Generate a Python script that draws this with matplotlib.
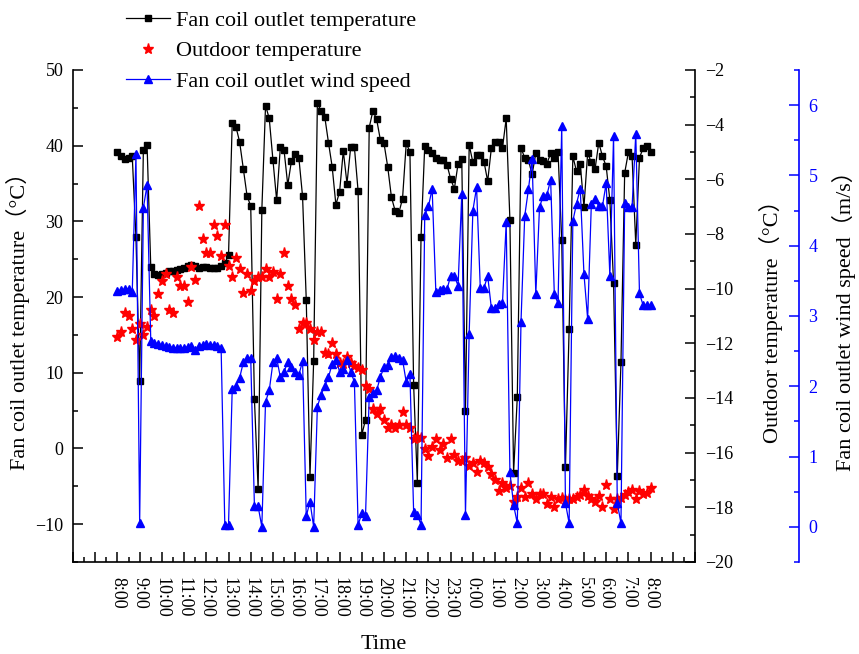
import numpy as np
import matplotlib
matplotlib.use('Agg')
from matplotlib import pyplot as plt
import matplotlib.ticker as plticker

plt.rcParams['font.family'] = ['Liberation Serif', 'Noto Sans CJK SC']

# one reading every 10 minutes, from 8:00 to 8:00 next day
outlet_temp = [
    39.1, 38.6, 38.3, 38.4, 38.6, 27.9, 8.9, 39.4, 40.1,
    24.0, 23.0, 22.9, 23.0, 23.2, 23.4, 23.5, 23.6, 23.7, 23.9, 24.1,
    24.3, 24.1, 23.9, 24.0, 24.0, 23.9, 23.8, 23.9, 24.1, 24.5, 25.5,
    43.0, 42.5, 40.5, 36.9, 33.4, 32.0, 6.5, -5.4, 31.5, 45.3, 43.6,
    38.1, 32.8, 39.8, 39.4, 34.8, 38.0, 38.9, 38.4, 33.3, 19.6, -3.8,
    11.6, 45.6, 44.6, 43.8,
    40.4, 37.2, 32.2, 33.9, 39.3, 35.0, 39.8, 39.8, 34.0, 1.8, 3.8,
    42.4, 44.6, 43.5, 40.8, 40.3, 37.2, 33.2, 31.4, 31.1, 33.0, 40.3,
    39.2, 8.4, -4.5, 28.0, 40.0, 39.4, 39.0,
    38.4, 38.1, 38.1, 37.5, 35.6, 34.3, 37.6, 38.3, 4.9, 40.1, 37.8,
    38.8, 38.8, 37.9, 35.3, 39.7, 40.5, 40.5, 39.7, 43.6, 30.2, -3.2,
    6.8, 39.7, 38.4, 38.1, 36.2, 39.0, 38.1,
    38.0, 37.6, 39.0, 38.4, 39.2, 27.5, -2.5, 15.8, 38.6, 36.6, 37.6,
    31.9, 39.0, 37.8, 36.9, 40.4, 38.6, 37.3, 32.8, 21.9, -3.7, 11.4,
    36.4, 39.1, 38.6, 26.9, 38.4, 39.7, 40.0, 39.2,
]

outdoor_temp = [
    -11.78, -11.6, -10.88, -11.0, -11.49, -11.88, -11.31, -11.7, -11.39,
    -10.78, -11.0, -10.2, -9.71, -9.48, -10.78, -10.9, -9.59, -9.89,
    -9.89, -10.49, -9.2, -9.7, -6.98, -8.18, -8.68, -8.68, -7.67, -8.07,
    -8.79, -7.67, -9.17, -9.59, -8.89, -9.28, -10.17, -9.48, -10.09,
    -9.71, -9.59, -9.59, -9.29, -9.59, -9.38, -10.39, -9.48, -8.68,
    -9.89, -10.39, -10.6, -11.49, -11.27, -11.27, -11.49, -11.88, -11.6,
    -11.6, -12.37,
    -12.39, -12.0, -12.39, -12.71, -12.76, -12.49, -12.73, -12.83, -12.9,
    -12.98, -13.56, -13.67, -14.41, -14.59, -14.41, -14.81, -15.11,
    -14.99, -15.11, -14.99, -14.5, -14.99, -15.11, -15.51, -15.41,
    -15.47, -15.88, -16.12, -15.8,
    -15.51, -15.9, -15.7, -16.2, -15.51, -16.1, -16.29, -16.29, -16.2,
    -16.49, -16.39, -16.7, -16.29, -16.39, -16.51, -16.78, -17.0, -17.4,
    -17.12, -17.31, -17.22, -17.81, -17.61, -17.31, -17.61, -17.1,
    -17.52, -17.71, -17.52,
    -17.52, -17.89, -17.61, -18.0, -17.71, -17.67, -17.73, -17.71,
    -17.71, -17.61, -17.55, -17.37, -17.6, -17.71, -17.82, -17.59,
    -18.0, -17.2, -17.71, -18.07, -17.71, -17.67, -17.55, -17.45,
    -17.37, -17.71, -17.4, -17.52, -17.49, -17.28,
]

wind_speed = [
    3.35, 3.37, 3.38, 3.39, 3.34, 5.30, 0.05, 4.54, 4.86,
    2.65, 2.62, 2.60, 2.59, 2.57, 2.56, 2.55, 2.55, 2.54, 2.55, 2.56,
    2.57, 2.51, 2.57, 2.59, 2.60, 2.59, 2.59, 2.58, 2.55,
    0.03, 0.03,
    1.96, 2.01, 2.12, 2.34, 2.40, 2.40, 0.29, 0.29, 0.0, 1.78, 1.94,
    2.34, 2.40, 2.13, 2.21, 2.34, 2.27, 2.21, 2.16, 2.36, 0.15, 0.36,
    0.0, 1.71, 1.88, 2.01,
    2.13, 2.32, 2.38, 2.21, 2.25, 2.38, 2.21, 2.06, 0.03, 0.19, 0.15,
    1.85, 1.91, 1.94, 2.13, 2.27, 2.30, 2.42, 2.43, 2.40, 2.38, 2.06,
    2.17, 0.21, 0.17, 0.03, 4.44, 4.56, 4.81,
    3.34, 3.37, 3.38, 3.38, 3.57, 3.57, 3.43, 4.73, 0.17, 2.75, 4.50,
    4.83, 3.40, 3.40, 3.57, 3.11, 3.12, 3.17, 3.19, 4.33, 0.78, 0.31,
    0.05, 2.92, 4.42, 4.80, 5.23, 3.31, 4.55, 4.71,
    4.72, 4.94, 3.31, 3.18, 5.70, 0.34, 0.05, 4.35, 4.60, 4.81, 3.60,
    2.96, 4.60, 4.67, 4.56, 4.56, 4.89, 3.57, 5.56, 0.34, 0.05, 4.61,
    4.55, 4.55, 5.59, 3.32, 3.15, 3.15, 3.15,
]

hours = np.arange(len(outlet_temp)) / 6.0  # hours after 8:00


def hour_label(h, pos):
    if h < -0.01 or h > 24.01:
        return ''
    return '%d:00' % ((8 + int(round(h))) % 24)


fig = plt.figure(figsize=(8.59, 6.54), dpi=100)
ax = fig.add_axes([0.085, 0.1407, 0.7241, 0.7523])
ax2 = ax.twinx()
ax3 = ax.twinx()

l1, = ax.plot(hours, outlet_temp, color='black', lw=0.9, marker='s',
              markersize=5, label='Fan coil outlet temperature')
l2, = ax2.plot(hours, outdoor_temp, linestyle='none', color='red',
               marker='*', markersize=8, label='Outdoor temperature')
l3, = ax3.plot(hours, wind_speed, color='blue', lw=0.9, marker='^',
               markersize=6, label='Fan coil outlet wind speed')

# left axis
ax.set_xlim(-2, 26)
ax.set_ylim(-15, 50)
ax.xaxis.set_major_locator(plticker.MultipleLocator(1))
ax.xaxis.set_minor_locator(plticker.MultipleLocator(0.5))
ax.xaxis.set_major_formatter(plticker.FuncFormatter(hour_label))
ax.yaxis.set_major_locator(plticker.MultipleLocator(10))
ax.yaxis.set_minor_locator(plticker.MultipleLocator(5))
ax.spines['top'].set_visible(False)
ax.spines['right'].set_visible(False)
for s in ['left', 'bottom']:
    ax.spines[s].set_linewidth(1.2)
ax.tick_params(axis='both', which='major', direction='in', length=7,
               width=1.1, labelsize=13)
ax.tick_params(axis='both', which='minor', direction='in', length=3.5,
               width=1.1)
ax.tick_params(axis='x', labelrotation=-90, pad=11)
ax.tick_params(axis='y', pad=7)
ax.set_xlabel('Time', fontsize=16, labelpad=12)
ax.set_ylabel('Fan coil outlet temperature（°C）', fontsize=16, labelpad=4)

# outdoor temperature axis
ax2.set_ylim(-20, -2)
ax2.yaxis.set_major_locator(plticker.MultipleLocator(2))
ax2.yaxis.set_minor_locator(plticker.MultipleLocator(1))
for s in ['top', 'left', 'bottom']:
    ax2.spines[s].set_visible(False)
ax2.spines['right'].set_linewidth(1.2)
ax2.tick_params(axis='y', which='major', direction='in', length=7,
                width=1.1, labelsize=13, pad=7)
ax2.tick_params(axis='y', which='minor', direction='in', length=3.5,
                width=1.1)
ax2.set_ylabel('Outdoor temperature（°C）', fontsize=16, labelpad=19)

# wind speed axis
ax3.set_ylim(-0.5, 6.5)
ax3.spines['right'].set_position(('axes', 1.167))
ax3.yaxis.set_major_locator(plticker.MultipleLocator(1))
ax3.yaxis.set_minor_locator(plticker.MultipleLocator(0.5))
for s in ['top', 'left', 'bottom']:
    ax3.spines[s].set_visible(False)
ax3.spines['right'].set_color('blue')
ax3.spines['right'].set_linewidth(1.2)
ax3.tick_params(axis='y', which='major', direction='in', length=7,
                width=1.1, labelsize=13, pad=7, colors='blue')
ax3.tick_params(axis='y', which='minor', direction='in', length=3.5,
                width=1.1, colors='blue')
ax3.set_ylabel('Fan coil outlet wind speed（m/s）', fontsize=16,
               labelpad=10, color='black')

fig.legend(handles=[l1, l2, l3], loc='upper left',
           bbox_to_anchor=(0.128, 1.008), frameon=False, fontsize=16,
           handlelength=2.0, handletextpad=0.25, labelspacing=0.45,
           borderpad=0.2)

plt.savefig('out.png', dpi=100)
